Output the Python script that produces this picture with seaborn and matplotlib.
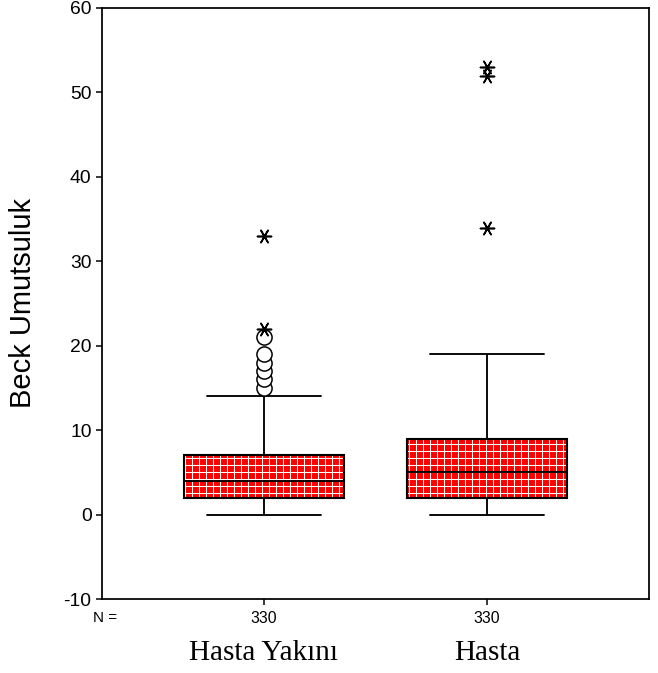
import numpy as np
import pandas as pd
import seaborn as sns
import matplotlib.pyplot as plt
from matplotlib.patches import PathPatch

groups = ['Hasta Yakını', 'Hasta']

# Beck Umutsuluk puanlari: deger -> kisi sayisi (her grupta n = 330)
yakini_values = [0, 1, 2, 3, 4, 5, 6, 7, 8, 9, 10, 11, 12, 13, 14,
                 15, 16, 17, 18, 19, 21, 22, 33]
yakini_counts = [30, 40, 45, 40, 30, 25, 25, 25, 15, 12, 10, 9, 7, 5, 4,
                 1, 1, 1, 1, 1, 1, 1, 1]

hasta_values = [0, 1, 2, 3, 4, 5, 6, 7, 8, 9, 10, 11, 12, 13, 14,
                15, 16, 17, 18, 19, 34, 52, 53]
hasta_counts = [35, 35, 30, 30, 30, 25, 22, 20, 18, 15, 12, 10, 9, 8, 7,
                6, 5, 4, 3, 3, 1, 1, 1]

yticks = [-10, 0, 10, 20, 30, 40, 50, 60]

scores = {
    'Hasta Yakını': np.repeat(yakini_values, yakini_counts),
    'Hasta': np.repeat(hasta_values, hasta_counts),
}
df = pd.DataFrame({
    'grup': np.concatenate([[g] * len(scores[g]) for g in groups]),
    'deger': np.concatenate([scores[g] for g in groups]),
})

sns.set_style('white')
plt.rcParams['font.family'] = ['Liberation Sans', 'DejaVu Sans']
plt.rcParams['hatch.linewidth'] = 0.9
plt.rcParams['axes.unicode_minus'] = False
for k in ['text.color', 'axes.labelcolor', 'xtick.color', 'ytick.color']:
    plt.rcParams[k] = 'black'

DPI = 84
fig = plt.figure(figsize=(658 / DPI, 673 / DPI), dpi=DPI)
ax = fig.add_axes([102 / 658, 1 - 599 / 673, 547 / 658, 591 / 673])

sns.boxplot(data=df, x='grup', y='deger', order=groups, width=0.72,
            color='red', saturation=1, linecolor='black', linewidth=1.6,
            showfliers=False, capwidths=0.51,
            boxprops=dict(edgecolor='white', hatch='++', linewidth=0),
            ax=ax)

# black frame around the hatched boxes
for p in list(ax.patches):
    ax.add_patch(PathPatch(p.get_path(), transform=p.get_transform(),
                           fill=False, edgecolor='black', lw=1.8, zorder=2.05))

# SPSS style: o = outlier (>1.5 IQR), * = extreme (>=3 IQR)
for g in groups:
    v = scores[g]
    q1, q3 = np.percentile(v, [25, 75])
    iqr = q3 - q1
    fl = np.unique(v[(v > q3 + 1.5 * iqr) | (v < q1 - 1.5 * iqr)])
    ext = fl[(fl >= q3 + 3 * iqr) | (fl <= q1 - 3 * iqr)]
    out = fl[~np.isin(fl, ext)]
    if len(out):
        sns.stripplot(x=[g] * len(out), y=out, order=groups, jitter=False,
                      marker='o', size=13, color='white', edgecolor='black',
                      linewidth=1.3, ax=ax)
        ax.collections[-1].set_facecolor('none')
    if len(ext):
        sns.stripplot(x=[g] * len(ext), y=ext, order=groups, jitter=False,
                      marker=(6, 2, 30), size=12, color='black',
                      linewidth=1.4, ax=ax)

ax.set_xlim(-0.726, 1.726)
ax.set_ylim(-10, 60)
ax.set_yticks(yticks)
ax.set_xticks(range(len(groups)))
ax.set_xticklabels([str(len(scores[g])) for g in groups])
ax.set_xlabel('')
ax.set_ylabel('Beck Umutsuluk', fontsize=25)
ax.yaxis.set_label_coords(-0.118, 0.5)

ax.tick_params(axis='y', direction='out', length=5, width=1.3, labelsize=16.5,
               pad=4, left=True)
ax.tick_params(axis='x', direction='out', length=5, width=1.3, labelsize=13.5,
               pad=5, bottom=True)
for s in ax.spines.values():
    s.set_visible(True)
    s.set_color('black')
    s.set_linewidth(1.5)

ax.text(0.006, -0.02, 'N =', transform=ax.transAxes, ha='center', va='top',
        fontsize=13)
for i, g in enumerate(groups):
    ax.text(i, -0.103, g, transform=ax.get_xaxis_transform(), ha='center',
            va='baseline', fontsize=25, family='Liberation Serif')

fig.savefig('out.png', dpi=DPI)
